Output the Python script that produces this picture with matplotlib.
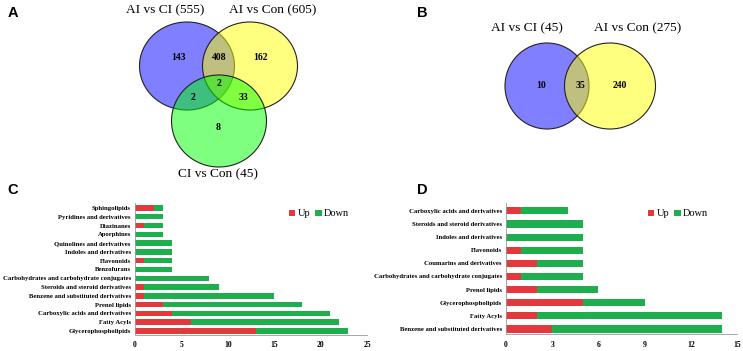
"""Venn diagrams (A, B) and up/down class bar charts (C, D)."""

import matplotlib
matplotlib.use("Agg")
import matplotlib.pyplot as plt
from matplotlib.patches import Ellipse

# ---- data -------------------------------------------------------------
venn_a_sets = ["AI vs CI (555)", "AI vs Con (605)", "CI vs Con (45)"]
venn_a_counts = {"143": (178, 57), "408": (219, 57), "162": (260, 57),
                 "2": (219, 83), "2 ": (193, 97), "33": (243, 97), "8": (218, 127)}
venn_b_sets = ["AI vs CI (45)", "AI vs Con (275)"]
venn_b_counts = {"10": (541, 86), "35": (580, 86), "240": (620, 86)}

c_classes = [
    "Glycerophospholipids", "Fatty Acyls", "Carboxylic acids and derivatives",
    "Prenol lipids", "Benzene and substituted derivatives",
    "Steroids and steroid derivatives",
    "Carbohydrates and carbohydrate conjugates", "Benzofurans", "Flavonoids",
    "Indoles and derivatives", "Quinolines and derivatives", "Aporphines",
    "Diazinanes", "Pyridines and derivatives", "Sphingolipids",
]
c_up = [13, 6, 4, 3, 1, 1, 0, 0, 1, 0, 0, 0, 1, 0, 2]
c_down = [10, 16, 17, 15, 14, 8, 8, 4, 3, 4, 4, 3, 2, 3, 1]

d_classes = [
    "Benzene and substituted derivatives", "Fatty Acyls", "Glycerophospholipids",
    "Prenol lipids", "Carbohydrates and carbohydrate conjugates",
    "Coumarins and derivatives", "Flavonoids", "Indoles and derivatives",
    "Steroids and steroid derivatives", "Carboxylic acids and derivatives",
]
d_up = [3, 2, 5, 2, 1, 2, 1, 0, 0, 1]
d_down = [11, 12, 4, 4, 4, 3, 4, 5, 5, 3]

RED = "#e23a3c"
GREEN = "#1fae4e"
SERIF = "Liberation Serif"
SANS = "Liberation Sans"

W, H = 743, 351
fig = plt.figure(figsize=(W / 100, H / 100), dpi=100)

# background axes in pixel coordinates for the Venn diagrams and panel letters
bg = fig.add_axes([0, 0, 1, 1])
bg.set_xlim(0, W)
bg.set_ylim(H, 0)
bg.axis("off")

def circle(cx, cy, w, h, color):
    bg.add_patch(Ellipse((cx, cy), w, h, facecolor=color, alpha=0.5, edgecolor="none"))
    bg.add_patch(Ellipse((cx, cy), w, h, facecolor="none", edgecolor="#222222", lw=0.8))

# panel A
circle(187, 66, 95, 88, "#0000ff")
circle(250, 66, 95, 88, "#ffff00")
circle(219, 121, 95, 92, "#00ff00")
for name, (x, y) in zip(venn_a_sets, [(165, 10), (273, 10), (218, 174)]):
    bg.text(x, y, name, ha="center", va="center", family=SERIF, fontsize=9.6)
for val, (x, y) in venn_a_counts.items():
    bg.text(x, y, val.strip(), ha="center", va="center", family=SERIF,
            fontsize=7, fontweight="bold")

# panel B
circle(547, 86, 84, 86, "#0000ff")
circle(610, 86, 91, 86, "#ffff00")
for name, (x, y) in zip(venn_b_sets, [(527, 28), (638, 28)]):
    bg.text(x, y, name, ha="center", va="center", family=SERIF, fontsize=9.6)
for val, (x, y) in venn_b_counts.items():
    bg.text(x, y, val, ha="center", va="center", family=SERIF,
            fontsize=7, fontweight="bold")

for letter, (x, y) in zip("ABCD", [(13, 13), (422, 13), (13, 190), (422, 190)]):
    bg.text(x, y, letter, ha="center", va="center", family=SANS,
            fontsize=10.5, fontweight="bold")


def bar_panel(rect, classes, up, down, xmax, xticks, leg_xy, height):
    ax = fig.add_axes([rect[0] / W, 1 - rect[3] / H,
                       (rect[2] - rect[0]) / W, (rect[3] - rect[1]) / H])
    y = range(len(classes))
    ax.barh(y, up, height=height, color=RED, label="Up")
    ax.barh(y, down, left=up, height=height, color=GREEN, label="Down")
    ax.set_yticks(list(y))
    ax.set_yticklabels(classes, family=SERIF, fontsize=4.8, fontweight="bold")
    ax.set_xticks(xticks)
    ax.set_xticklabels([str(t) for t in xticks], family=SERIF, fontsize=5.5,
                       fontweight="bold")
    ax.set_xlim(0, xmax)
    ax.set_ylim(-0.4, len(classes) - 0.4)
    for s in ("top", "right"):
        ax.spines[s].set_visible(False)
    for s in ("left", "bottom"):
        ax.spines[s].set_color("#999999")
        ax.spines[s].set_linewidth(0.6)
    ax.tick_params(axis="y", length=0, pad=3)
    ax.tick_params(axis="x", length=0, pad=5)
    ax.legend(ncol=2, loc="center left", frameon=False,
              bbox_to_anchor=(leg_xy[0] / W, 1 - leg_xy[1] / H),
              bbox_transform=fig.transFigure, handlelength=0.6, handleheight=0.6,
              handletextpad=0.2, columnspacing=0.5, borderaxespad=0,
              prop={"family": SERIF, "size": 7.5})
    return ax


bar_panel((135, 202.7, 367, 334.5), c_classes, c_up, c_down, 25,
          [0, 5, 10, 15, 20, 25], (285, 214), 0.62)
bar_panel((506, 203, 737, 334.2), d_classes, d_up, d_down, 15,
          [0, 3, 6, 9, 12, 15], (644, 214), 0.55)

fig.savefig("out.png", dpi=100)
